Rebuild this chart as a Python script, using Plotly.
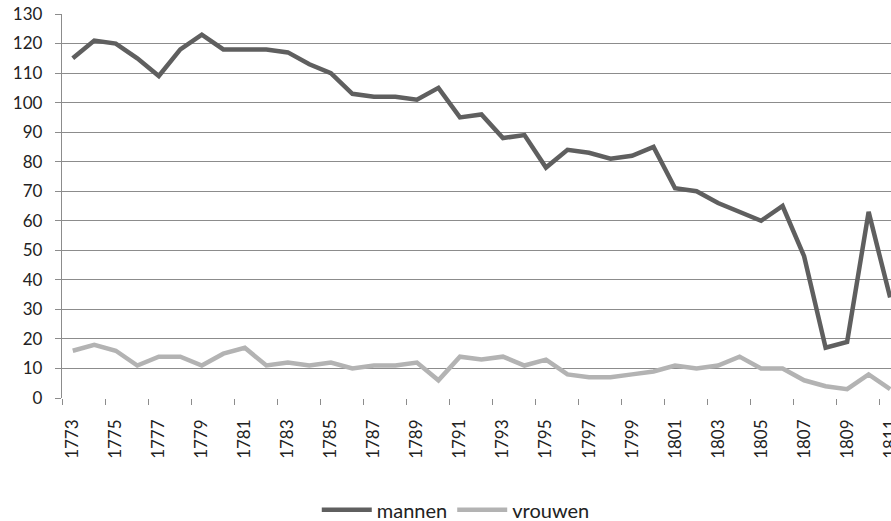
import plotly.graph_objects as go

years = [str(y) for y in range(1773, 1812)]

mannen = [115, 121, 120, 115, 109, 118, 123, 118, 118, 118,
          117, 113, 110, 103, 102, 102, 101, 105, 95, 96,
          88, 89, 78, 84, 83, 81, 82, 85, 71, 70,
          66, 63, 60, 65, 48, 17, 19, 63, 34]

vrouwen = [16, 18, 16, 11, 14, 14, 11, 15, 17, 11,
           12, 11, 12, 10, 11, 11, 12, 6, 14, 13,
           14, 11, 13, 8, 7, 7, 8, 9, 11, 10,
           11, 14, 10, 10, 6, 4, 3, 8, 3]

font_family = "Lato, 'Noto Sans', sans-serif"
grid = "#8c8c8c"

fig = go.Figure()
fig.add_trace(go.Scatter(x=years, y=mannen, name="mannen", mode="lines",
                         line=dict(color="#5f5f5f", width=4.5)))
fig.add_trace(go.Scatter(x=years, y=vrouwen, name="vrouwen", mode="lines",
                         line=dict(color="#b3b3b3", width=4.5)))

fig.update_layout(
    width=891, height=521,
    margin=dict(l=62, r=0, t=14, b=123, autoexpand=False),
    plot_bgcolor="white", paper_bgcolor="white",
    font=dict(family=font_family, size=17, color="#222222"),
    showlegend=True,
    legend=dict(orientation="h", x=0.475, xanchor="center", y=-0.291, yanchor="middle",
                font=dict(size=20), itemwidth=50, tracegroupgap=0),
)

fig.update_xaxes(
    type="category", range=[-0.5, 38.04], automargin=False,
    tickmode="linear", tick0=0, dtick=2,
    tickangle=-90, tickson="boundaries",
    ticks="outside", ticklen=6, tickcolor=grid,
    ticklabelstandoff=17,
    showline=False, showgrid=False, zeroline=False,
    tickfont=dict(size=17),
)
fig.update_yaxes(
    range=[0, 130], dtick=10, tick0=0, automargin=False,
    showgrid=True, gridcolor=grid, gridwidth=1.3,
    showline=True, linecolor=grid, linewidth=1.3,
    ticks="outside", ticklen=6, tickcolor=grid,
    ticklabelstandoff=9,
    zeroline=False, tickfont=dict(size=17),
)

# drop the browser's default body margin so the figure sits at the window's corner
fig.write_html("out.html", config={"displayModeBar": False},
               post_script="document.body.style.margin='0';document.body.style.overflow='hidden';")
